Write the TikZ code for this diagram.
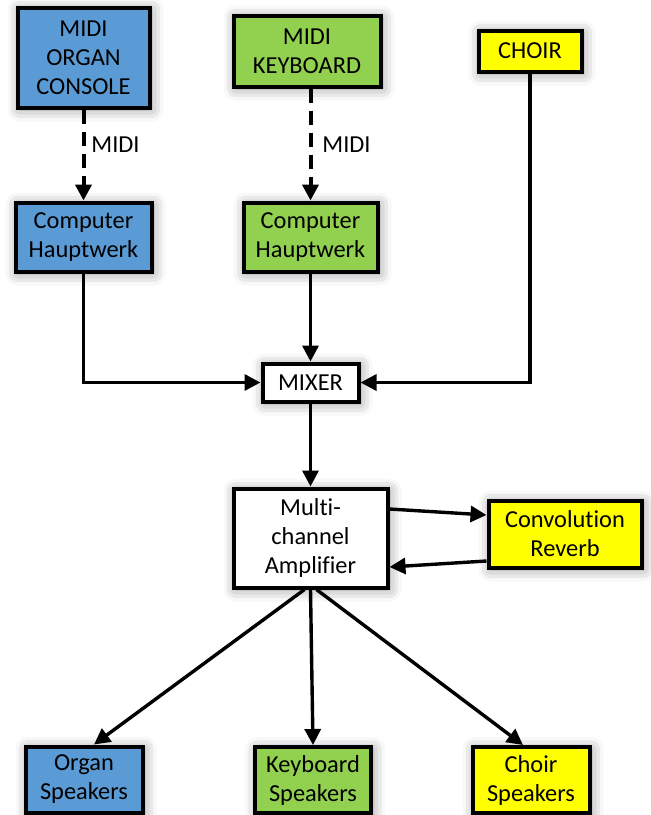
\documentclass[tikz,border=0pt]{standalone}
\usepackage{fontspec}
\setmainfont{Carlito}[Ligatures=NoCommon]
\usetikzlibrary{arrows.meta,shadows.blur}
\definecolor{cblue}{HTML}{5B9BD5}
\definecolor{cgreen}{HTML}{92D050}
\definecolor{cyel}{HTML}{FFFF00}
\begin{document}
\begin{tikzpicture}[x=0.5pt,y=-0.5pt,
  box/.style={draw=black,line width=2pt,align=center,inner sep=0pt,
    font=\fontsize{12.2}{14.5}\selectfont,
    blur shadow={shadow xshift=1pt,shadow yshift=-1pt,shadow blur radius=6pt,shadow opacity=45}},
  conn/.style={line width=1.7pt,-{Triangle[width=8pt,length=8pt]}},
  midiconn/.style={conn,line width=2pt,dash pattern=on 7pt off 4pt},
  lbl/.style={font=\fontsize{12.2}{14.5}\selectfont,inner sep=0pt,anchor=west}]
\useasboundingbox (0,0) rectangle (651,815);
\node[box,fill=cblue,minimum width=66pt,minimum height=50pt] (organ) at (83.5,57.5) {MIDI\\ORGAN\\CONSOLE};
\node[box,fill=cgreen,minimum width=73.5pt,minimum height=35.5pt] (kbd) at (307,51) {MIDI\\KEYBOARD};
\node[box,fill=cyel,minimum width=51.5pt,minimum height=20.5pt] (choir) at (530,51) {CHOIR};
\node[box,fill=cblue,minimum width=68pt,minimum height=34.5pt] (hw1) at (83.5,237) {Computer\\Hauptwerk};
\node[box,fill=cgreen,minimum width=67pt,minimum height=34.5pt] (hw2) at (310.5,237) {Computer\\Hauptwerk};
\node[box,fill=white,minimum width=48pt,minimum height=19pt] (mixer) at (310.5,382.5) {MIXER};
\node[box,fill=white,minimum width=77pt,minimum height=49.5pt] (amp) at (310.5,538) {Multi-\\channel\\Amplifier};
\node[box,fill=cyel,minimum width=76.5pt,minimum height=33.5pt] (rev) at (565,534) {Convolution\\Reverb};
\node[box,fill=cblue,minimum width=58.5pt,minimum height=33pt] (os) at (84,779.5) {Organ\\Speakers};
\node[box,fill=cgreen,minimum width=58pt,minimum height=33pt] (ks) at (313,780) {Keyboard\\Speakers};
\node[box,fill=cyel,minimum width=58.5pt,minimum height=33pt] (cs) at (531,780) {Choir\\Speakers};
\node[lbl] (m1) at (91,145) {MIDI};
\node[lbl] (m2) at (322,145) {MIDI};
\draw[midiconn] (organ.south) -- (hw1.north);
\draw[midiconn] (kbd.south -| hw2.north) -- (hw2.north);
\draw[conn] (hw1.south) |- (mixer.west);
\draw[conn] (hw2.south) -- (mixer.north);
\draw[conn] (choir.south) |- (mixer.east);
\draw[conn] (mixer.south) -- (amp.north);
\draw[conn] ([yshift=14.5pt]amp.east) -- ([yshift=9.5pt]rev.west);
\draw[conn] ([yshift=-13.5pt]rev.west) -- ([yshift=-14.5pt]amp.east);
\draw[conn] ([xshift=-3pt]amp.south) -- ([xshift=5pt]os.north);
\draw[conn] (amp.south) -- (ks.north);
\draw[conn] ([xshift=3pt]amp.south) -- ([xshift=-4pt]cs.north);
\end{tikzpicture}
\end{document}
